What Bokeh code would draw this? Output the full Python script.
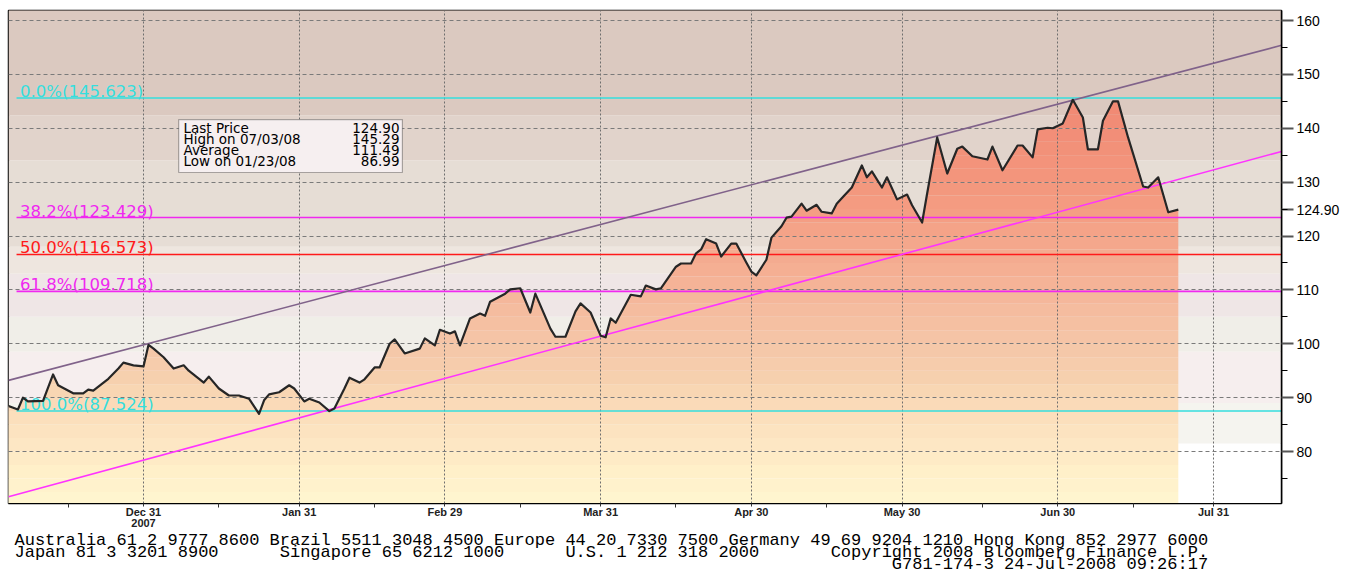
import numpy as np
import pandas as pd
from bokeh.plotting import figure
from bokeh.models import (ColumnDataSource, FixedTicker, Label, BoxAnnotation, Range1d, Title)
from bokeh.core.properties import value
from bokeh.embed import file_html
from bokeh.resources import INLINE

# ---------------- data ----------------
dates = [
    "2007-12-04", "2007-12-06", "2007-12-07", "2007-12-08", "2007-12-11", "2007-12-13",
    "2007-12-14", "2007-12-17", "2007-12-19", "2007-12-20", "2007-12-21", "2007-12-24",
    "2007-12-26", "2007-12-27", "2007-12-29", "2007-12-31", "2008-01-01", "2008-01-02",
    "2008-01-04", "2008-01-06", "2008-01-08", "2008-01-09", "2008-01-12", "2008-01-13",
    "2008-01-15", "2008-01-17", "2008-01-19", "2008-01-21", "2008-01-23", "2008-01-24",
    "2008-01-25", "2008-01-27", "2008-01-29", "2008-01-30", "2008-02-01", "2008-02-02",
    "2008-02-04", "2008-02-06", "2008-02-07", "2008-02-09", "2008-02-10", "2008-02-12",
    "2008-02-13", "2008-02-15", "2008-02-16", "2008-02-18", "2008-02-19", "2008-02-21",
    "2008-02-24", "2008-02-25", "2008-02-27", "2008-02-28", "2008-03-01", "2008-03-02",
    "2008-03-03", "2008-03-05", "2008-03-07", "2008-03-08", "2008-03-09", "2008-03-12",
    "2008-03-13", "2008-03-15", "2008-03-17", "2008-03-18", "2008-03-21", "2008-03-22",
    "2008-03-24", "2008-03-26", "2008-03-27", "2008-03-29", "2008-03-31", "2008-04-01",
    "2008-04-02", "2008-04-03", "2008-04-06", "2008-04-08", "2008-04-09", "2008-04-11",
    "2008-04-12", "2008-04-15", "2008-04-16", "2008-04-18", "2008-04-19", "2008-04-20",
    "2008-04-21", "2008-04-23", "2008-04-24", "2008-04-26", "2008-04-27", "2008-04-29",
    "2008-04-30", "2008-05-01", "2008-05-03", "2008-05-04", "2008-05-06", "2008-05-07",
    "2008-05-08", "2008-05-10", "2008-05-11", "2008-05-13", "2008-05-14", "2008-05-16",
    "2008-05-17", "2008-05-18", "2008-05-20", "2008-05-22", "2008-05-23", "2008-05-24",
    "2008-05-26", "2008-05-27", "2008-05-29", "2008-05-31", "2008-06-01", "2008-06-03",
    "2008-06-04", "2008-06-06", "2008-06-08", "2008-06-10", "2008-06-11", "2008-06-13",
    "2008-06-16", "2008-06-17", "2008-06-19", "2008-06-22", "2008-06-23", "2008-06-25",
    "2008-06-26", "2008-06-28", "2008-06-29", "2008-07-01", "2008-07-03", "2008-07-05",
    "2008-07-06", "2008-07-08", "2008-07-09", "2008-07-11", "2008-07-12", "2008-07-14",
    "2008-07-17", "2008-07-18", "2008-07-20", "2008-07-22", "2008-07-24",
]
prices = [
    88.5, 87.8, 90.0, 89.3, 89.4, 94.3,
    92.3, 90.8, 90.8, 91.5, 91.3, 93.5,
    95.4, 96.5, 96.0, 95.8, 99.8, 99.1,
    97.5, 95.4, 96.0, 95.0, 92.8, 93.9,
    91.7, 90.4, 90.4, 89.8, 86.99, 89.5,
    90.6, 91.0, 92.3, 91.7, 89.3, 89.8,
    89.1, 87.5, 88.0, 91.7, 93.7, 92.8,
    93.4, 95.6, 95.6, 100.0, 100.8, 98.2,
    99.1, 101.0, 99.7, 102.6, 101.9, 102.3,
    99.7, 104.7, 105.6, 105.2, 107.8, 109.3,
    110.1, 110.3, 105.8, 109.3, 102.8, 101.3,
    101.3, 106.0, 107.5, 105.8, 101.5, 101.2,
    104.7, 103.9, 109.1, 108.8, 110.8, 110.1,
    110.3, 114.3, 114.9, 114.9, 116.8, 117.5,
    119.4, 118.6, 116.2, 118.6, 118.6, 115.1,
    113.4, 112.7, 115.6, 119.7, 121.8, 123.4,
    123.6, 126.0, 124.7, 125.8, 124.5, 124.2,
    126.0, 127.0, 129.0, 133.1, 130.9, 132.0,
    129.0, 130.9, 126.8, 127.7, 125.7, 122.5,
    127.9, 138.3, 131.6, 136.2, 136.6, 134.8,
    134.2, 136.6, 132.2, 136.8, 136.8, 134.6,
    139.8, 140.1, 140.0, 140.9, 145.29, 142.0,
    136.1, 136.1, 141.4, 145.0, 145.0, 138.3,
    129.2, 129.0, 130.9, 124.4, 124.9,
]

fib_pcts = ["0.0%", "38.2%", "50.0%", "61.8%", "100.0%"]
fib_levels = [145.623, 123.429, 116.573, 109.718, 87.524]

channel_dates = ["2007-12-04 03:00", "2008-08-13 13:00"]
upper_channel = [93.2, 155.4]
lower_channel = [71.6, 135.7]

month_tick_dates = ["2007-12-31", "2008-01-31", "2008-02-29", "2008-03-31",
                    "2008-04-30", "2008-05-30", "2008-06-30", "2008-07-31"]
month_tick_labels = ["Dec 31\n2007", "Jan 31", "Feb 29", "Mar 31",
                     "Apr 30", "May 30", "Jun 30", "Jul 31"]
mid_month_dates = ["2007-12-16", "2008-01-15", "2008-02-15", "2008-03-15",
                   "2008-04-15", "2008-05-15", "2008-06-15", "2008-07-15"]
price_ticks = [80, 90, 100, 110, 120, 130, 140, 150, 160]
price_minor_ticks = [75, 85, 95, 105, 115, 125, 135, 145, 155]

info_labels = ["Last Price", "High on  07/03/08", "Average", "Low on  01/23/08"]
info_values = ["124.90", "145.29", "111.49", "86.99"]
last_price = 124.90

footer_line1 = ["Australia 61 2 9777 8600", "Brazil 5511 3048 4500",
                "Europe 44 20 7330 7500", "Germany 49 69 9204 1210",
                "Hong Kong 852 2977 6000"]
footer_line2 = ["Japan 81 3 3201 8900", "Singapore 65 6212 1000",
                "U.S. 1 212 318 2000", "Copyright 2008 Bloomberg Finance L.P."]
footer_line3 = ["G781-174-3 24-Jul-2008 09:26:17"]

# ---------------- styling ----------------
W, H = 1351, 575
X_START, X_END = "2007-12-04 03:00", "2008-08-13 13:00"
Y_START, Y_END = 70.35, 161.86

bg_edges = [70.0, 81.5, 89.0, 98.5, 105.0, 113.0, 118.0, 134.0, 142.4, 165.0]
bg_colors = ["#ffffff", "#f5f4ef", "#f6eeee", "#f0eee8", "#efe6e6",
             "#eee6df", "#e6ddd5", "#e1d3cb", "#dbc9c0"]

fill_anchors = [(70, "#fff6d0"), (76, "#fff0c9"), (82, "#fde6c3"), (88, "#fadcb9"),
                (94, "#f6d0ae"), (100, "#f5c6a8"), (106, "#f5bc9f"), (112, "#f5b296"),
                (118, "#f4a88d"), (124, "#f49e84"), (130, "#f3967d"), (138, "#f28f78"),
                (146, "#f08873")]
fib_colors = ["#35dede", "#f028f0", "#ff1a1a", "#f028f0", "#35dede"]
footer_columns = [[0, 25, 47, 70, 94], [0, 26, 54, 80], [86]]   # monospace columns
NBSP = "\u00a0"


def ms(s):
    return pd.Timestamp(s).value / 1e6


def interp_color(v):
    ps = [a[0] for a in fill_anchors]
    rgb = np.array([[int(c[i:i + 2], 16) for i in (1, 3, 5)] for _, c in fill_anchors])
    r = [int(round(np.interp(v, ps, rgb[:, k]))) for k in range(3)]
    return "#%02x%02x%02x" % tuple(r)


def split_at_levels(xs, ys, levels):
    """Insert the points where each straight segment crosses a band edge,
    so that clipping per band follows the drawn line exactly."""
    ox, oy = [xs[0]], [ys[0]]
    for i in range(len(xs) - 1):
        x0, x1, y0, y1 = xs[i], xs[i + 1], ys[i], ys[i + 1]
        lo, hi = min(y0, y1), max(y0, y1)
        cross = sorted([e for e in levels if lo < e < hi], reverse=y0 > y1)
        for e in cross:
            t = (e - y0) / (y1 - y0)
            ox.append(x0 + t * (x1 - x0))
            oy.append(e)
        ox.append(x1)
        oy.append(y1)
    return np.array(ox), np.array(oy)


def mono_line(segments, cols):
    s = ""
    for seg, c in zip(segments, cols):
        s += NBSP * max(c - len(s), 1 if s else 0) + seg
    return s


x_ms = np.array([ms(d) for d in dates])
p_arr = np.array(prices)

p = figure(width=W, height=H, x_axis_type="datetime", y_axis_location="right",
           x_range=Range1d(ms(X_START), ms(X_END)), y_range=Range1d(Y_START, Y_END),
           output_backend="svg", toolbar_location=None,
           min_border_left=8, min_border_right=70, min_border_top=10, min_border_bottom=72)
p.background_fill_color = "white"
p.border_fill_color = "white"
p.outline_line_color = "black"
p.outline_line_width = 1.5

# background bands
bg_src = ColumnDataSource(dict(
    left=[ms(X_START)] * len(bg_colors), right=[ms(X_END)] * len(bg_colors),
    bottom=bg_edges[:-1], top=bg_edges[1:], color=bg_colors))
p.quad(left="left", right="right", bottom="bottom", top="top", fill_color="color",
       line_color=None, source=bg_src, level="image")

# gradient fill under the price line
band_lo = np.arange(70.0, 150.0, 2.5)
fx, fy = split_at_levels(x_ms, p_arr, list(band_lo) + [150.0])
for lo in band_lo:
    hi = lo + 2.5
    p.varea(x=fx, y1=np.full(len(fy), lo), y2=np.clip(fy, lo, hi),
            fill_color=interp_color(lo + 1.25), level="image")

# grids
p.xgrid.grid_line_color = "#6e6e6e"
p.xgrid.grid_line_dash = "2 2"
p.xgrid.grid_line_width = 1
p.ygrid.ticker = FixedTicker(ticks=price_ticks)
p.ygrid.grid_line_color = "#7a7a7a"
p.ygrid.grid_line_dash = "4 3"
p.ygrid.grid_line_width = 1

# fibonacci lines
fib_start = ms(X_START) + 1.6 * 86400000
fib_label_x = ms(X_START) + 2.3 * 86400000
p.segment(x0=[fib_start] * len(fib_levels), x1=[ms(X_END)] * len(fib_levels),
          y0=fib_levels, y1=fib_levels, line_color=fib_colors, line_width=1.6)
fib_src = ColumnDataSource(dict(
    x=[fib_label_x] * len(fib_levels), y=fib_levels,
    text=["%s(%.3f)" % (a, b) for a, b in zip(fib_pcts, fib_levels)],
    color=fib_colors))
p.text(x="x", y="y", text="text", text_color="color", source=fib_src,
       text_font=value("DejaVu Sans"), text_font_size="16.5px",
       text_baseline="bottom", y_offset=3)

# channel lines
cd = [ms(d) for d in channel_dates]
p.line(cd, upper_channel, line_color="#80628a", line_width=1.6)
p.line(cd, lower_channel, line_color="#ff33ff", line_width=1.6)

# price line
p.line(x_ms, p_arr, line_color="#262626", line_width=2.2, line_join="round")

# axes
xa = p.xaxis[0]
xa.ticker = FixedTicker(ticks=[ms(d) for d in month_tick_dates],
                        minor_ticks=[ms(d) for d in mid_month_dates])
xa.major_label_overrides = {ms(d): l for d, l in zip(month_tick_dates, month_tick_labels)}
xa.major_label_text_font = "Liberation Sans"
xa.major_label_text_font_style = "bold"
xa.major_label_text_font_size = "11px"
xa.major_label_text_color = "#222222"
xa.major_label_text_line_height = 0.95
xa.major_tick_out = 3
xa.major_tick_in = 0
xa.minor_tick_out = 4
xa.minor_tick_in = 0
xa.major_label_standoff = -2
xa.axis_line_color = "black"
xa.major_tick_line_color = "#333333"
xa.minor_tick_line_color = "#333333"

ya = p.yaxis[0]
ya.ticker = FixedTicker(ticks=sorted(price_ticks + [last_price]), minor_ticks=price_minor_ticks)
ya.major_label_overrides = {last_price: "%.2f" % last_price}
ya.major_label_text_font = "Liberation Sans"
ya.major_label_text_font_size = "14px"
ya.major_label_text_color = "black"
ya.major_tick_out = 12
ya.major_tick_in = 0
ya.major_tick_line_width = 2
ya.major_tick_line_color = "#555555"
ya.minor_tick_out = 6
ya.minor_tick_in = 0
ya.minor_tick_line_color = "black"
ya.major_label_standoff = 3
ya.axis_line_color = "black"
ya.axis_line_width = 1.5

# info box
p.add_layout(BoxAnnotation(left=ms("2008-01-07 00:00"), right=ms("2008-02-20 13:00"),
                           top=141.62, bottom=131.79, fill_color="#f6eff0", fill_alpha=1.0,
                           line_color="black", line_width=1.2))
row_y = [375.5, 365, 354, 343]
for lab, val, yy in zip(info_labels, info_values, row_y):
    p.add_layout(Label(x=175, y=yy, x_units="screen", y_units="screen", text=lab,
                       text_font="DejaVu Sans", text_font_size="13.5px",
                       text_baseline="middle", text_color="black"))
    p.add_layout(Label(x=391, y=yy, x_units="screen", y_units="screen", text=val,
                       text_font="DejaVu Sans", text_font_size="13.5px",
                       text_baseline="middle", text_align="right", text_color="black"))

# footer (three monospace lines below the date axis)
footer_text = "\n".join(mono_line(seg, cols) for seg, cols in
                        zip([footer_line1, footer_line2, footer_line3], footer_columns))
p.add_layout(Title(text=footer_text, align="left", offset=6, standoff=-5,
                   text_font="Liberation Mono", text_font_size="17px",
                   text_font_style="normal", text_color="black",
                   text_line_height=0.64), "below")

open("out.html", "w").write(file_html(p, INLINE))
